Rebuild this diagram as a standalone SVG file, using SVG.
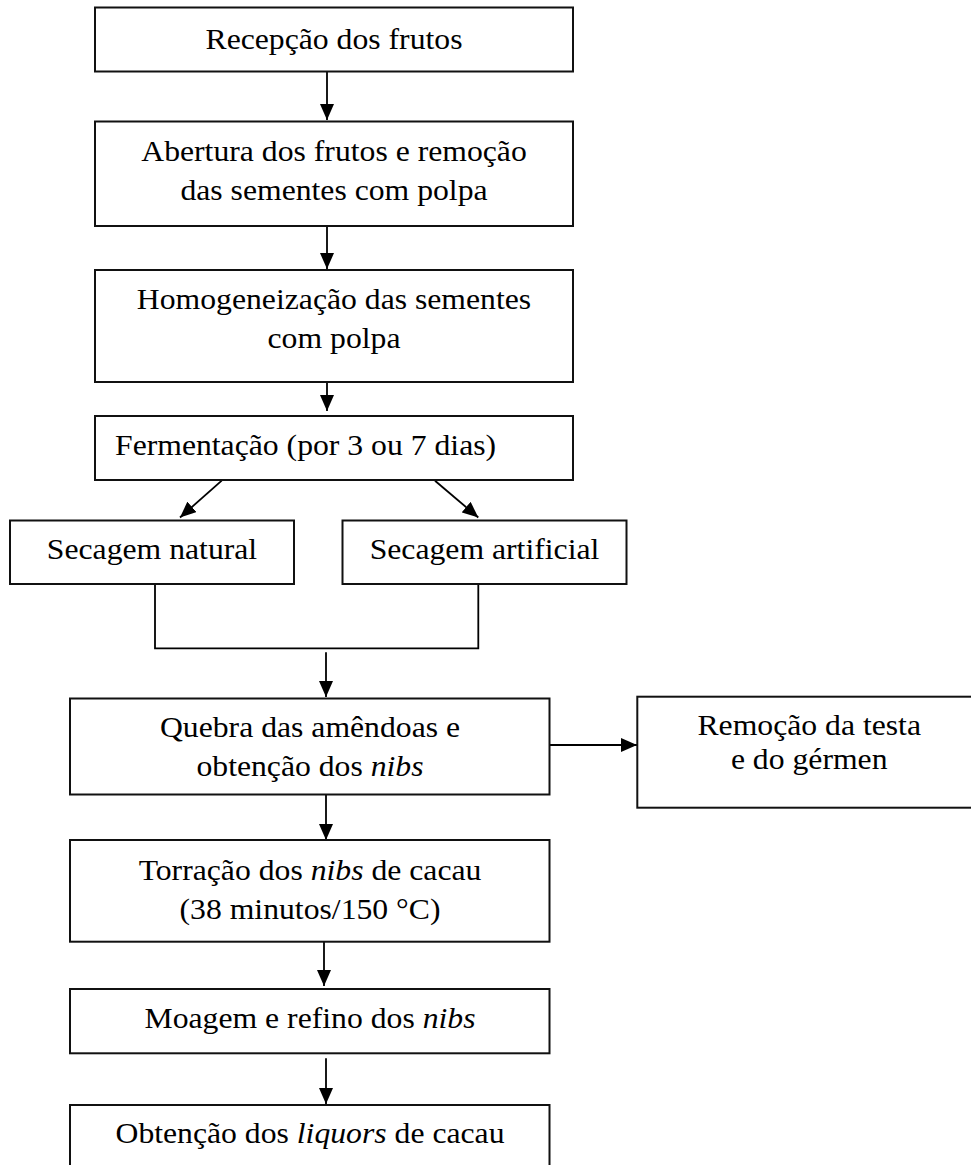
<svg xmlns="http://www.w3.org/2000/svg" width="971" height="1165" viewBox="0 0 971 1165">
<style>
.box{fill:#fff;stroke:#111;stroke-width:2}
.t{font-family:"Liberation Serif","Times New Roman",serif;font-size:29.5px;fill:#000;text-anchor:middle}
.s{text-anchor:start}
.i{font-style:italic}
.ln{fill:none;stroke:#000;stroke-width:1.8}
</style>
<defs>
<marker id="ah" viewBox="0 0 16 14" refX="16" refY="7" markerWidth="16" markerHeight="14" markerUnits="userSpaceOnUse" orient="auto">
<path d="M0,0 L16,7 L0,14 Z" fill="#000"/>
</marker>
</defs>
<rect width="971" height="1165" fill="#fff"/>
<g id="connectors">
<line class="ln" x1="327" y1="71.5" x2="327" y2="120" marker-end="url(#ah)"/>
<line class="ln" x1="327" y1="226" x2="327" y2="269" marker-end="url(#ah)"/>
<line class="ln" x1="327" y1="382" x2="327" y2="411" marker-end="url(#ah)"/>
<line class="ln" x1="221.7" y1="480.7" x2="180" y2="517.5" marker-end="url(#ah)"/>
<line class="ln" x1="435" y1="480.7" x2="478.3" y2="517.5" marker-end="url(#ah)"/>
<polyline class="ln" points="155,584 155,648.3 478.3,648.3 478.3,584"/>
<line class="ln" x1="326" y1="652.3" x2="326" y2="697" marker-end="url(#ah)"/>
<line class="ln" x1="549.5" y1="745" x2="637" y2="745" marker-end="url(#ah)"/>
<line class="ln" x1="326" y1="794.5" x2="326" y2="840" marker-end="url(#ah)"/>
<line class="ln" x1="324" y1="941.7" x2="324" y2="986" marker-end="url(#ah)"/>
<line class="ln" x1="326" y1="1058.3" x2="326" y2="1104" marker-end="url(#ah)"/>
</g>
<g id="n1">
<rect class="box" x="95" y="7.5" width="478" height="64"/>
<text class="t" transform="translate(334,48.5) scale(1.075,1)">Recepção dos frutos</text>
</g>
<g id="n2">
<rect class="box" x="95" y="121.5" width="478" height="104.5"/>
<text class="t" transform="translate(334,160.5) scale(1.075,1)">Abertura dos frutos e remoção</text>
<text class="t" transform="translate(334,200) scale(1.075,1)">das sementes com polpa</text>
</g>
<g id="n3">
<rect class="box" x="95" y="270" width="478" height="112"/>
<text class="t" transform="translate(334,309.3) scale(1.075,1)">Homogeneização das sementes</text>
<text class="t" transform="translate(334,348.3) scale(1.075,1)">com polpa</text>
</g>
<g id="n4">
<rect class="box" x="95" y="416" width="478" height="64"/>
<text class="t s" transform="translate(115,455) scale(1.075,1)">Fermentação (por 3 ou 7 dias)</text>
</g>
<g id="n5">
<rect class="box" x="10" y="520.5" width="284" height="63.5"/>
<text class="t" transform="translate(152,559) scale(1.075,1)">Secagem natural</text>
</g>
<g id="n6">
<rect class="box" x="342.5" y="520.5" width="284" height="63.5"/>
<text class="t" transform="translate(484.5,559) scale(1.075,1)">Secagem artificial</text>
</g>
<g id="n7">
<rect class="box" x="70" y="698.5" width="479.5" height="96"/>
<text class="t" transform="translate(310,736.7) scale(1.075,1)">Quebra das amêndoas e</text>
<text class="t" transform="translate(310,776) scale(1.075,1)">obtenção dos <tspan class="i">nibs</tspan></text>
</g>
<g id="n8">
<rect class="box" x="637.3" y="696.7" width="344" height="111"/>
<text class="t" transform="translate(809.2,735) scale(1.075,1)">Remoção da testa</text>
<text class="t" transform="translate(809.2,769) scale(1.075,1)">e do gérmen</text>
</g>
<g id="n9">
<rect class="box" x="70" y="840" width="479.5" height="101.7"/>
<text class="t" transform="translate(310,880) scale(1.075,1)">Torração dos <tspan class="i">nibs</tspan> de cacau</text>
<text class="t" transform="translate(310,919.3) scale(1.075,1)">(38 minutos/150 °C)</text>
</g>
<g id="n10">
<rect class="box" x="70" y="989" width="479.5" height="64.3"/>
<text class="t" transform="translate(310,1028.3) scale(1.075,1)">Moagem e refino dos <tspan class="i">nibs</tspan></text>
</g>
<g id="n11">
<rect class="box" x="70" y="1105" width="479.5" height="80"/>
<text class="t" transform="translate(310,1143.3) scale(1.075,1)">Obtenção dos <tspan class="i">liquors</tspan> de cacau</text>
</g>
</svg>
